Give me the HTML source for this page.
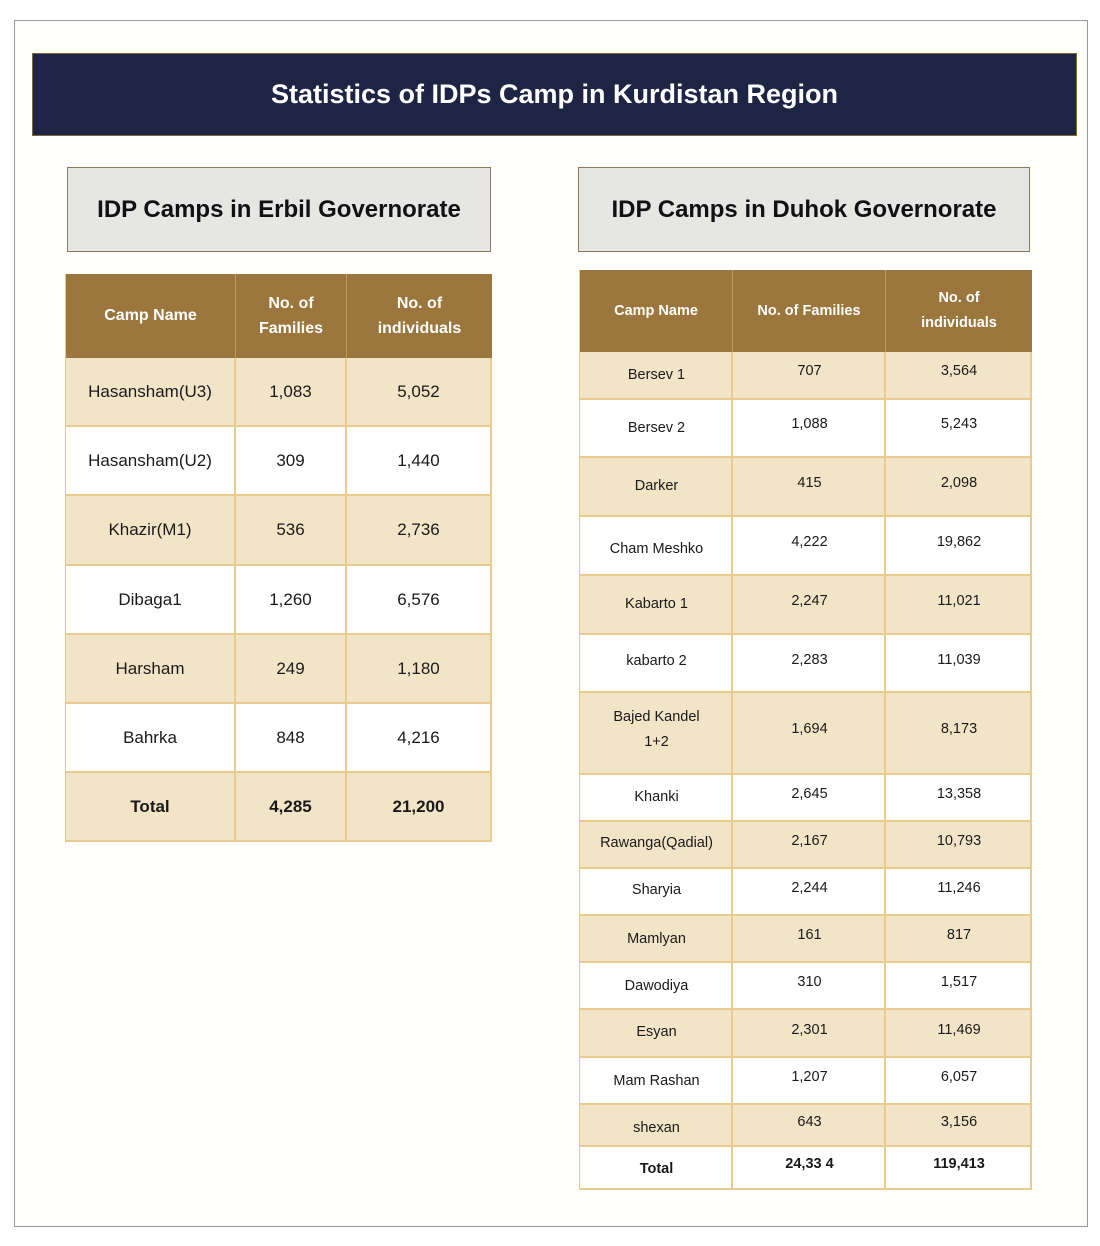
<!DOCTYPE html>
<html><head><meta charset="utf-8"><style>
body{margin:0;width:1100px;height:1246px;background:#fff;position:relative;font-family:"Liberation Sans",sans-serif;overflow:hidden}
div{position:absolute;box-sizing:border-box}
.c{display:flex;align-items:center;justify-content:center;text-align:center;color:#1a1a1a}
.h{background:#9b773d;color:#fff;font-weight:bold;border-right:1px solid #b89a66}
.l{background:#f2e4c6}
.w{background:#fff}
.cell{border-right:2px solid #eacb8e;border-bottom:2px solid #eacb8e}
</style></head><body>
<div style="left:14px;top:20px;width:1074px;height:1207px;border:1px solid #999;background:#fefefc"></div>
<div class="c" style="left:32px;top:53px;width:1045px;height:83px;background:#1e2444;border:1px solid #7a6a3a;color:#fff;font-weight:bold;font-size:27px">Statistics of IDPs Camp in Kurdistan Region</div>
<div class="c" style="left:67px;top:167px;width:424px;height:85px;background:#e6e7e4;border:1px solid #8c7a5a;font-weight:bold;font-size:24px;color:#111">IDP Camps in Erbil Governorate</div>
<div class="c" style="left:578px;top:167px;width:452px;height:85px;background:#e6e7e4;border:1px solid #8c7a5a;font-weight:bold;font-size:24px;color:#111">IDP Camps in Duhok Governorate</div>

<div style="left:65px;top:274px;width:427px;height:569px;border:1px solid #eacb8e;border-right:none;border-bottom:none"></div>
<div class="c h" style="left:66px;top:274px;width:170px;height:84px;font-size:16px">Camp Name</div>
<div class="c h" style="left:236px;top:274px;width:111px;height:84px;font-size:16px;line-height:25px">No. of<br>Families</div>
<div class="c h" style="left:347px;top:274px;width:145px;height:84px;font-size:16px;line-height:25px;border-right:none">No. of<br>individuals</div>

<div style="left:579px;top:270px;width:453px;height:920px;border-left:2px solid #eacb8e;border-top:1px solid #eacb8e"></div>
<div class="c h" style="left:580px;top:270px;width:153px;height:82px;font-size:14.5px">Camp Name</div>
<div class="c h" style="left:733px;top:270px;width:153px;height:82px;font-size:14.5px">No. of Families</div>
<div class="c h" style="left:886px;top:270px;width:146px;height:82px;font-size:14.5px;line-height:25px;border-right:none">No. of<br>individuals</div>

<div id="L"></div>
<script>
var L=[["Hasansham(U3)","1,083","5,052"],["Hasansham(U2)","309","1,440"],["Khazir(M1)","536","2,736"],["Dibaga1","1,260","6,576"],["Harsham","249","1,180"],["Bahrka","848","4,216"],["Total","4,285","21,200"]];
var h='';var xs=[66,236,347,492];
for(var i=0;i<L.length;i++){var y=Math.round(358+i*69.2);var y2=Math.round(358+(i+1)*69.2);var cls=i%2==0?'l':'w';
for(var j=0;j<3;j++){h+='<div class="c cell '+cls+'" style="left:'+xs[j]+'px;top:'+y+'px;width:'+(xs[j+1]-xs[j])+'px;height:'+(y2-y)+'px;font-size:17px;'+(i==6?'font-weight:bold;':'')+'">'+L[i][j]+'</div>';}}
var R=[["Bersev 1","707","3,564",352,400,375,371],["Bersev 2","1,088","5,243",400,458,428,424],["Darker","415","2,098",458,517,486,483],["Cham Meshko","4,222","19,862",517,576,549,542],["Kabarto 1","2,247","11,021",576,635,604,601],["kabarto 2","2,283","11,039",635,693,661,660],["Bajed Kandel<br>1+2","1,694","8,173",693,775,730,729],["Khanki","2,645","13,358",775,822,797,794],["Rawanga(Qadial)","2,167","10,793",822,869,843,841],["Sharyia","2,244","11,246",869,916,890,888],["Mamlyan","161","817",916,963,939,935],["Dawodiya","310","1,517",963,1010,986,982],["Esyan","2,301","11,469",1010,1058,1032,1030],["Mam Rashan","1,207","6,057",1058,1105,1081,1077],["shexan","643","3,156",1105,1147,1128,1122],["Total","24,33 4","119,413",1147,1190,1169,1164]];
var rx=[580,733,886,1032];
for(var i=0;i<R.length;i++){var r=R[i];var cls=i%2==0?'l':'w';var b=i==15?'font-weight:bold;':'';
for(var j=0;j<3;j++){var cy=j==0?r[5]:r[6];
h+='<div class="cell '+cls+'" style="left:'+rx[j]+'px;top:'+r[3]+'px;width:'+(rx[j+1]-rx[j])+'px;height:'+(r[4]-r[3])+'px"></div>';
h+='<div class="c" style="left:'+rx[j]+'px;top:'+(cy-30)+'px;width:'+(rx[j+1]-rx[j])+'px;height:60px;font-size:14.5px;line-height:25px;'+b+'">'+r[j]+'</div>';}}
document.getElementById('L').outerHTML=h;
</script>
</body></html>
